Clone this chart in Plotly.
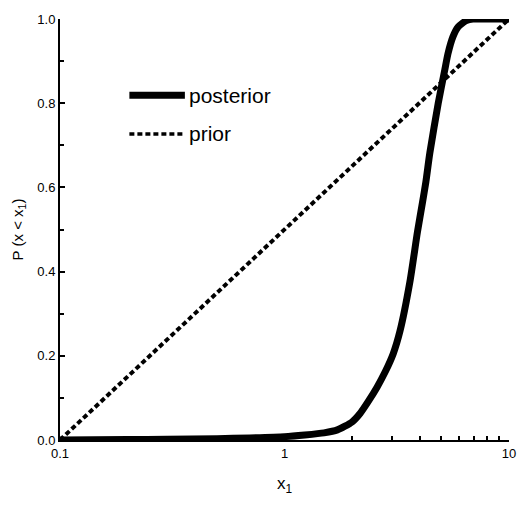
import plotly.graph_objects as go

# Posterior CDF
post_x = [0.1, 0.2, 0.3, 0.5, 0.7, 1.0, 1.23, 1.5, 1.72, 2.0, 2.17, 2.35, 2.58, 2.81,
          3.05, 3.27, 3.62, 3.91, 4.12, 4.26, 4.44, 4.84, 5.17, 5.35, 5.63, 5.93,
          6.45, 6.9, 8.0, 10.0]
post_p = [0.0, 0.001, 0.002, 0.003, 0.005, 0.008, 0.012, 0.017, 0.024, 0.043, 0.063,
          0.09, 0.125, 0.162, 0.205, 0.259, 0.376, 0.494, 0.565, 0.612, 0.682, 0.8,
          0.878, 0.918, 0.958, 0.981, 0.996, 1.0, 1.0, 1.0]
# Prior CDF (log-uniform)
prior_x = [0.1, 10.0]
prior_p = [0.0, 1.0]

x_ticks = [0.1, 1, 10]
x_ticktext = ["0.1", "1", "10"]
y_ticks = [0.0, 0.2, 0.4, 0.6, 0.8, 1.0]
y_ticktext = ["0.0", "0.2", "0.4", "0.6", "0.8", "1.0"]
series_names = ["posterior", "prior"]

FONT = "Liberation Sans Narrow, Arial Narrow, Liberation Sans, Arial"

fig = go.Figure()
fig.add_trace(go.Scatter(x=prior_x, y=prior_p, mode="lines", name=series_names[1],
                         line=dict(color="black", width=4, dash="5px,3px"),
                         showlegend=False))
fig.add_trace(go.Scatter(x=post_x, y=post_p, mode="lines", name=series_names[0],
                         line=dict(color="black", width=7, shape="spline", smoothing=0.6),
                         showlegend=False))

# manual legend (samples + labels)
def px2paper(px, py):
    return (px - 60) / 453, (440 - py) / 425

for name, width, dash, py in [(series_names[0], 7, "solid", 92),
                              (series_names[1], 3.5, "5px,3px", 131)]:
    x0, y0 = px2paper(130, py)
    x1, _ = px2paper(186, py)
    fig.add_shape(type="line", xref="paper", yref="paper", x0=x0, x1=x1, y0=y0, y1=y0,
                  line=dict(color="black", width=width, dash=dash))
    tx, _ = px2paper(188, py)
    fig.add_annotation(xref="paper", yref="paper", x=tx, y=y0, text=name,
                       showarrow=False, xanchor="left", yanchor="middle",
                       font=dict(family=FONT, size=21, color="black"))

fig.update_layout(
    width=528, height=506,
    margin=dict(l=60, r=15, t=15, b=66),
    paper_bgcolor="white", plot_bgcolor="white",
    font=dict(family=FONT, color="black", size=13),
    xaxis=dict(type="log", range=[-1, 1], tickvals=x_ticks, ticktext=x_ticktext,
               ticks="inside", ticklen=5, tickwidth=1.5, tickcolor="black",
               showline=True, linecolor="black", linewidth=2, showgrid=False,
               zeroline=False, mirror=False,
               minor=dict(ticks="inside", ticklen=4, tickwidth=1.5, tickcolor="black",
                          dtick="D1", showgrid=False),
               title=dict(text="x<sub>1</sub>", font=dict(size=17, family=FONT), standoff=18),
               tickfont=dict(size=13, family=FONT)),
    yaxis=dict(range=[0, 1], tickvals=y_ticks, ticktext=y_ticktext,
               ticks="inside", ticklen=5, tickwidth=1.5, tickcolor="black",
               showline=True, linecolor="black", linewidth=2, showgrid=False,
               zeroline=False,
               minor=dict(ticks="inside", ticklen=4, tickwidth=1.5, tickcolor="black",
                          dtick=0.1, showgrid=False),
               title=dict(text="P (x &lt; x<sub>1</sub>)", font=dict(size=15, family=FONT),
                          standoff=10),
               tickfont=dict(size=13, family=FONT)),
)

fig.write_html("out.html")
